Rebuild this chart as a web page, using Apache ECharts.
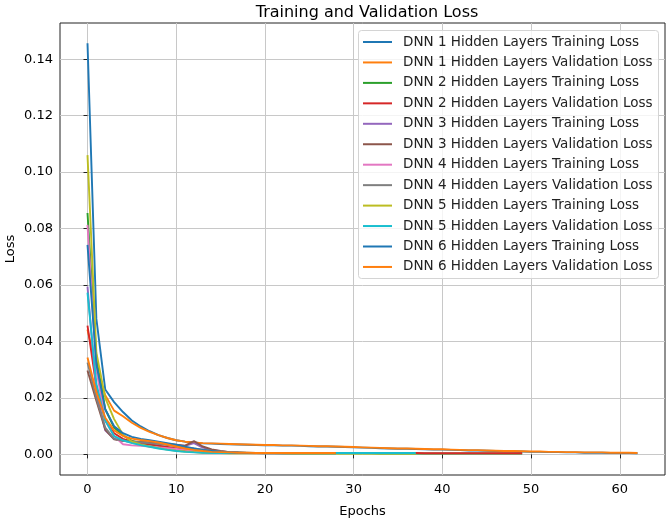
<!DOCTYPE html>
<html>
<head>
<meta charset="utf-8">
<script src="https://cdn.jsdelivr.net/npm/echarts@6/dist/echarts.min.js"></script>
<style>
html,body{margin:0;padding:0;background:#fff;}
#chart{width:669px;height:520px;}
</style>
</head>
<body>
<div id="chart"></div>
<script>
// ---- data (index = epoch) ----
const seriesNames = [
  'DNN 1 Hidden Layers Training Loss','DNN 1 Hidden Layers Validation Loss',
  'DNN 2 Hidden Layers Training Loss','DNN 2 Hidden Layers Validation Loss',
  'DNN 3 Hidden Layers Training Loss','DNN 3 Hidden Layers Validation Loss',
  'DNN 4 Hidden Layers Training Loss','DNN 4 Hidden Layers Validation Loss',
  'DNN 5 Hidden Layers Training Loss','DNN 5 Hidden Layers Validation Loss',
  'DNN 6 Hidden Layers Training Loss','DNN 6 Hidden Layers Validation Loss'
];
const dnn1Train = [0.1456,0.0480,0.0230,0.0185,0.0150,0.0120,0.0099,0.0082,0.0068,0.0058,
 0.0050,0.0045,0.0042,0.0039,0.0038,0.0037,0.0036,0.0035,0.0034,0.0033,
 0.0032,0.0032,0.0031,0.0031,0.0030,0.0029,0.0028,0.0028,0.0027,0.0026,
 0.0025,0.0024,0.0023,0.0022,0.0021,0.0020,0.0020,0.0019,0.0018,0.0017,
 0.0017,0.0016,0.0015,0.0014,0.0014,0.0013,0.0012,0.0011,0.0011,0.0010,
 0.0009,0.0009,0.0008,0.0008,0.0007,0.0007,0.0006,0.0006,0.0006,0.0005,
 0.0005,0.0005,0.0004];
const dnn1Val = [0.0442,0.0300,0.0210,0.0155,0.0135,0.0112,0.0094,0.0080,0.0068,0.0058,
 0.0050,0.0045,0.0042,0.0040,0.0039,0.0038,0.0037,0.0036,0.0035,0.0034,
 0.0033,0.0033,0.0032,0.0032,0.0031,0.0030,0.0029,0.0029,0.0028,0.0027,
 0.0026,0.0025,0.0024,0.0023,0.0022,0.0021,0.0021,0.0020,0.0019,0.0018,
 0.0018,0.0017,0.0016,0.0015,0.0015,0.0014,0.0013,0.0012,0.0012,0.0011,
 0.0010,0.0010,0.0009,0.0009,0.0008,0.0008,0.0007,0.0007,0.0007,0.0006,
 0.0006,0.0006,0.0005];
const dnn2Train = [0.0855,0.0340,0.0160,0.0095,0.0068,0.0048,0.0040,0.0035,0.0030,0.0025,
 0.0020,0.0015,0.0011,0.0009,0.0008,0.0007,0.0006,0.0006,0.0005,0.0005,
 0.0005,0.0005,0.0004,0.0004,0.0004,0.0004,0.0004,0.0004,0.0004,0.0004,
 0.0004,0.0004,0.0004,0.0003,0.0003,0.0003,0.0003,0.0003,0.0003,0.0003,
 0.0003,0.0003,0.0003,0.0003,0.0003,0.0003,0.0003,0.0003,0.0003,0.0003];
const dnn2Val = [0.0456,0.0240,0.0120,0.0075,0.0055,0.0045,0.0040,0.0036,0.0031,0.0026,
 0.0021,0.0016,0.0012,0.0010,0.0008,0.0007,0.0006,0.0006,0.0005,0.0005,
 0.0005,0.0005,0.0005,0.0005,0.0005,0.0005,0.0005,0.0005,0.0005,0.0005,
 0.0005,0.0005,0.0005,0.0005,0.0005,0.0005,0.0005,0.0005,0.0004,0.0004,
 0.0004,0.0004,0.0004,0.0004,0.0004,0.0004,0.0004,0.0004,0.0004,0.0004];
const dnn3Train = [0.0594,0.0220,0.0085,0.0055,0.0048,0.0045,0.0043,0.0041,0.0039,0.0036,
 0.0033,0.0030,0.0040,0.0024,0.0016,0.0011,0.0008,0.0006,0.0005,0.0005];
const dnn3Val = [0.0297,0.0190,0.0088,0.0053,0.0048,0.0046,0.0044,0.0042,0.0040,0.0037,
 0.0034,0.0031,0.0047,0.0028,0.0018,0.0012,0.0008,0.0006,0.0005,0.0005];
const dnn4Train = [0.0813,0.0300,0.0120,0.0065,0.0036,0.0032,0.0030,0.0028,0.0025,0.0022,
 0.0019,0.0016,0.0013,0.0010,0.0008,0.0007,0.0006,0.0005,0.0005,0.0004,
 0.0004,0.0004,0.0004,0.0004,0.0004];
const dnn4Val = [0.0325,0.0200,0.0095,0.0055,0.0048,0.0045,0.0043,0.0040,0.0037,0.0033,
 0.0029,0.0025,0.0021,0.0017,0.0013,0.0010,0.0008,0.0007,0.0006,0.0005,
 0.0005,0.0005,0.0005,0.0005,0.0005];
const dnn5Train = [0.1060,0.0360,0.0200,0.0125,0.0070,0.0045,0.0035,0.0028,0.0022,0.0017,
 0.0013,0.0010,0.0008,0.0006,0.0005,0.0005,0.0004,0.0004,0.0004,0.0004,
 0.0004,0.0004,0.0004,0.0003,0.0003,0.0003,0.0003,0.0003,0.0003,0.0003,
 0.0003,0.0003,0.0003,0.0003,0.0003,0.0003,0.0003,0.0003];
const dnn5Val = [0.0573,0.0250,0.0120,0.0065,0.0050,0.0040,0.0033,0.0027,0.0021,0.0016,
 0.0012,0.0009,0.0007,0.0006,0.0005,0.0005,0.0005,0.0005,0.0005,0.0005,
 0.0005,0.0005,0.0005,0.0005,0.0005,0.0005,0.0005,0.0005,0.0005,0.0005,
 0.0005,0.0005,0.0005,0.0005,0.0005,0.0005,0.0005,0.0005];
const dnn6Train = [0.0742,0.0320,0.0160,0.0100,0.0075,0.0062,0.0055,0.0050,0.0045,0.0040,
 0.0034,0.0027,0.0021,0.0016,0.0012,0.0009,0.0007,0.0006,0.0005,0.0005,
 0.0004,0.0004,0.0004,0.0004,0.0004,0.0004,0.0004,0.0004,0.0004];
const dnn6Val = [0.0343,0.0220,0.0130,0.0085,0.0065,0.0056,0.0051,0.0047,0.0042,0.0035,
 0.0028,0.0021,0.0016,0.0012,0.0009,0.0008,0.0007,0.0006,0.0006,0.0005,
 0.0005,0.0005,0.0005,0.0005,0.0005,0.0005,0.0005,0.0005,0.0005];
const xTicks = [0,10,20,30,40,50,60];
const yTicks = [0.00,0.02,0.04,0.06,0.08,0.10,0.12,0.14];

const allValues = [dnn1Train,dnn1Val,dnn2Train,dnn2Val,dnn3Train,dnn3Val,
                   dnn4Train,dnn4Val,dnn5Train,dnn5Val,dnn6Train,dnn6Val];
const colors = ['#1f77b4','#ff7f0e','#2ca02c','#d62728','#9467bd','#8c564b',
                '#e377c2','#7f7f7f','#bcbd22','#17becf','#1f77b4','#ff7f0e'];

const FONT = 'DejaVu Sans';
const chart = echarts.init(document.getElementById('chart'), null, {renderer:'canvas'});

const series = allValues.map((vals, i) => ({
  name: seriesNames[i],
  type: 'line',
  data: vals.map((v, e) => [e, v]),
  symbol: 'none',
  showSymbol: false,
  animation: false,
  lineStyle: {color: colors[i], width: 1.9},
  itemStyle: {color: colors[i]},
  z: 2
}));

chart.setOption({
  animation: false,
  backgroundColor: '#ffffff',
  color: colors,
  title: {
    text: 'Training and Validation Loss',
    left: 362, top: 0, textAlign: 'center',
    textStyle: {fontFamily: FONT, fontSize: 16, fontWeight: 'normal', color: '#000'}
  },
  graphic: [{
    type: 'rect', z: 50, silent: true,
    shape: {x: 358.5, y: 30.5, width: 300, height: 248, r: 3},
    style: {fill: 'rgba(255,255,255,0.8)', stroke: '#d4d4d4', lineWidth: 1}
  }],
  grid: {
    left: 60, right: 4, top: 23, bottom: 45,
    outerBoundsMode: 'none',
    show: true, borderColor: '#222', borderWidth: 1, backgroundColor: 'transparent',
    containLabel: false
  },
  legend: {
    orient: 'vertical',
    left: 358, top: 30, z: 60,
    padding: [5, 6, 5, 5],
    itemWidth: 29, itemHeight: 14, itemGap: 6.45,
    backgroundColor: 'transparent',
    borderWidth: 0,
    textStyle: {fontFamily: FONT, fontSize: 13.5, color: '#222', lineHeight: 14, padding: [0,0,0,6]},
    data: seriesNames.map((n) => ({name: n, icon: 'path://M0,0 L29,0 L29,2 L0,2 Z'}))
  },
  xAxis: {
    type: 'value',
    min: -3.1, max: 65.1,
    interval: 10,
    name: 'Epochs', nameLocation: 'middle', nameGap: 30, nameMoveOverlap: false,
    nameTextStyle: {fontFamily: FONT, fontSize: 13, color: '#000'},
    axisLine: {show: false},
    axisTick: {show: true, inside: false, length: 4, lineStyle: {color: '#222'},
      customValues: xTicks},
    axisLabel: {fontFamily: FONT, fontSize: 13, color: '#000', margin: 8,
      customValues: xTicks, formatter: (v) => String(Math.round(v))},
    splitLine: {show: true, lineStyle: {color: '#c8c8c8', width: 1}}
  },
  yAxis: {
    type: 'value',
    min: -0.0073, max: 0.1528,
    interval: 0.02,
    name: 'Loss', nameLocation: 'middle', nameGap: 43, nameRotate: 90, nameMoveOverlap: false,
    nameTextStyle: {fontFamily: FONT, fontSize: 13, color: '#000'},
    axisLine: {show: false},
    axisTick: {show: true, inside: false, length: 4, lineStyle: {color: '#222'},
      customValues: yTicks},
    axisLabel: {fontFamily: FONT, fontSize: 13, color: '#000', margin: 7,
      customValues: yTicks, formatter: (v) => v.toFixed(2)},
    splitLine: {show: true, lineStyle: {color: '#c8c8c8', width: 1}}
  },
  series: series
});
</script>
</body>
</html>
